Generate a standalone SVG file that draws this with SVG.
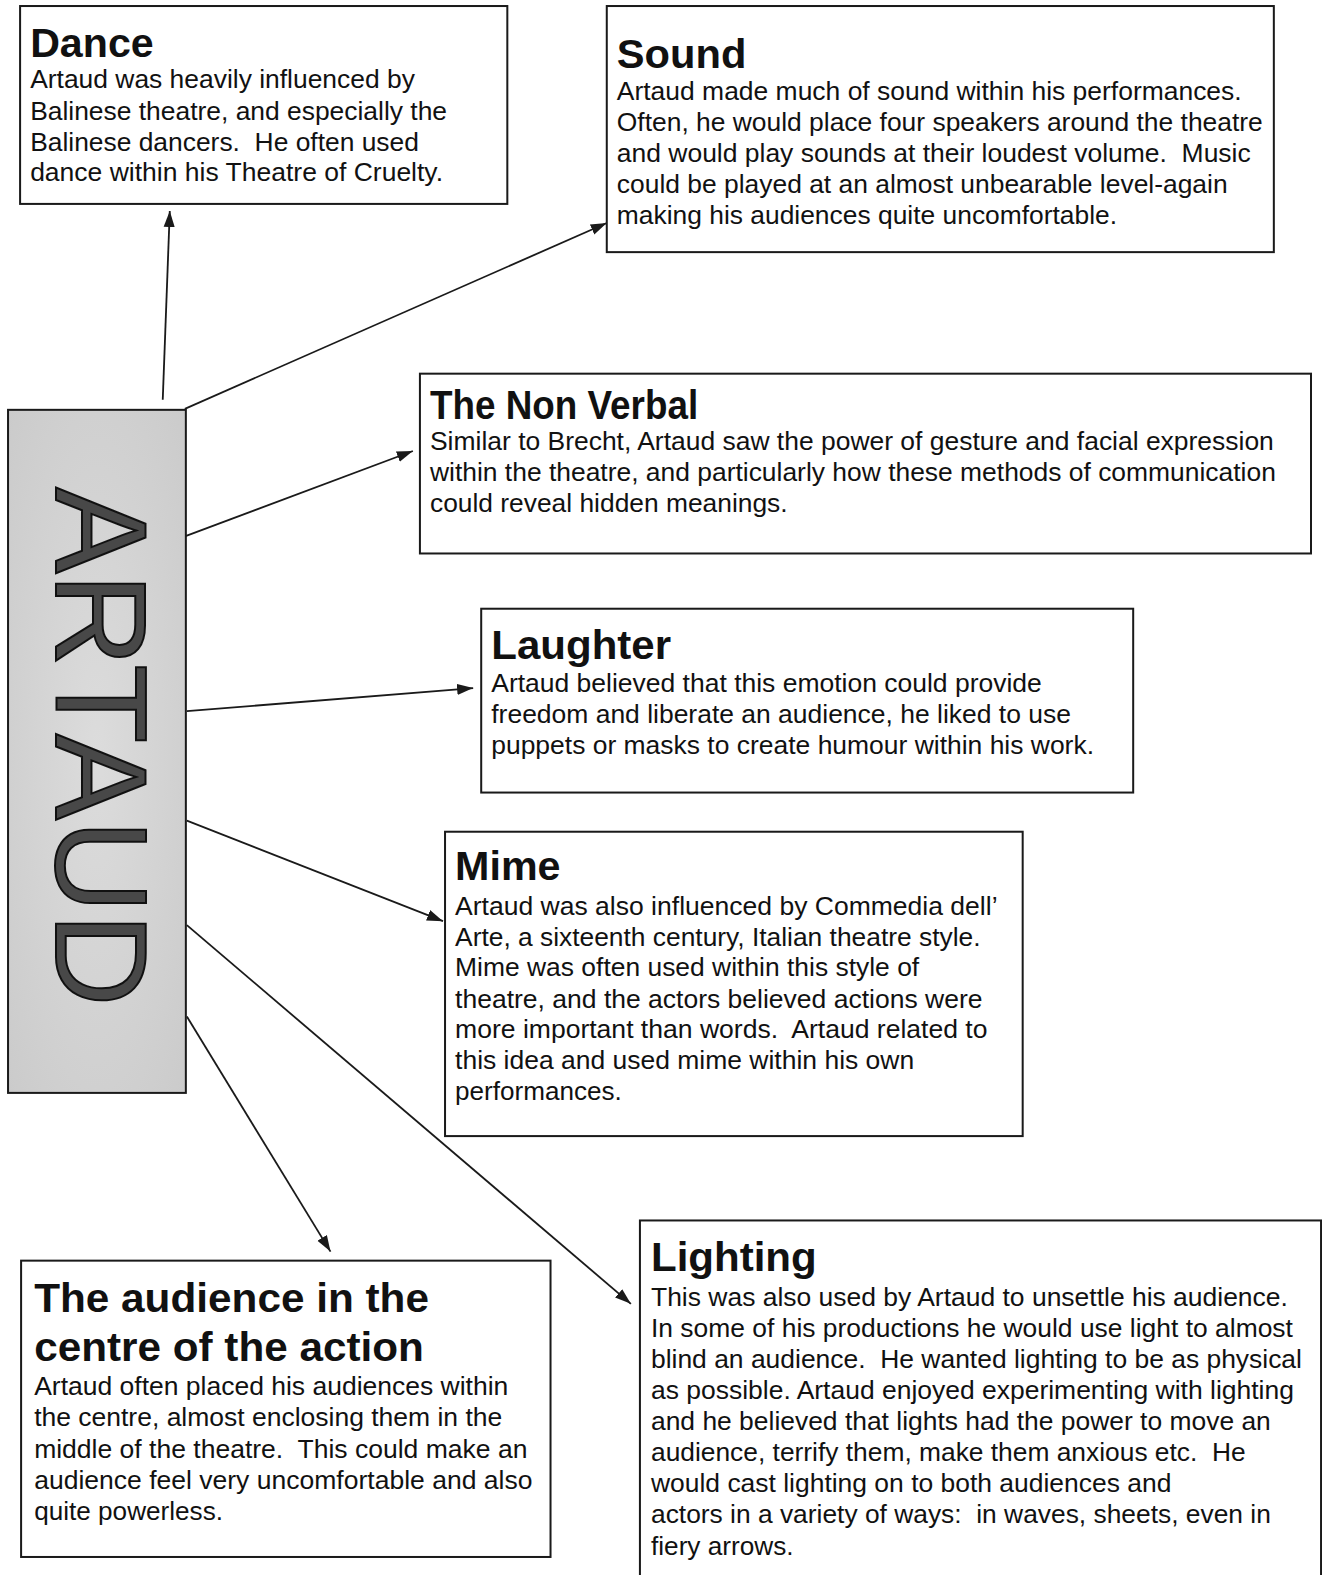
<svg xmlns="http://www.w3.org/2000/svg" width="1322" height="1575" viewBox="0 0 1322 1575">
<style>
.box{fill:#fff;stroke:#1a1a1a;stroke-width:2}
.t{font-family:"Liberation Sans",Arial,sans-serif;font-weight:bold;font-size:41px;fill:#111}
.b{font-family:"Liberation Sans",Arial,sans-serif;font-size:26px;fill:#111;white-space:pre}
.c{fill:none;stroke:#1a1a1a;stroke-width:1.8;marker-end:url(#ah)}
</style>
<defs>
<marker id="ah" viewBox="0 0 16 12" refX="16" refY="6" markerWidth="16" markerHeight="12" markerUnits="userSpaceOnUse" orient="auto">
<path d="M0,0.5 L16,6 L0,11.5 z" fill="#1a1a1a"/>
</marker>
<radialGradient id="gr" cx="0.5" cy="0.5" r="0.7">
<stop offset="0" stop-color="#dcdcdc"/>
<stop offset="1" stop-color="#cbcbcb"/>
</radialGradient>
</defs>
<rect width="1322" height="1575" fill="#fff"/>
<g transform="scale(1.0046 1.0045)">
<g id="connectors">
<line class="c" x1="162" y1="398" x2="169" y2="210"/>
<line class="c" x1="184" y1="407" x2="604" y2="222"/>
<line class="c" x1="184" y1="534" x2="411" y2="449"/>
<line class="c" x1="186" y1="708" x2="471" y2="685"/>
<line class="c" x1="186" y1="817" x2="441" y2="917"/>
<line class="c" x1="186" y1="921" x2="628" y2="1298"/>
<line class="c" x1="186" y1="1012" x2="329" y2="1246"/>
</g>
<g id="artaud">
<rect x="8" y="408" width="177" height="680" fill="url(#gr)" stroke="#1a1a1a" stroke-width="2"/>
<text transform="translate(56,485) rotate(90)" font-family="'Liberation Sans',Arial,sans-serif" font-size="130" fill="#484848" stroke="#111" stroke-width="2" textLength="517" lengthAdjust="spacingAndGlyphs">ARTAUD</text>
</g>
<g id="dance">
<rect class="box" x="20" y="6" width="485" height="197"/>
<text class="t" x="30" y="57" textLength="123" lengthAdjust="spacingAndGlyphs">Dance</text>
<text class="b" x="30" y="88" textLength="383" lengthAdjust="spacingAndGlyphs">Artaud was heavily influenced by</text>
<text class="b" x="30" y="119" textLength="415" lengthAdjust="spacingAndGlyphs">Balinese theatre, and especially the</text>
<text class="b" x="30" y="150" textLength="387" lengthAdjust="spacingAndGlyphs">Balinese dancers.  He often used</text>
<text class="b" x="30" y="180" textLength="411" lengthAdjust="spacingAndGlyphs">dance within his Theatre of Cruelty.</text>
</g>
<g id="sound">
<rect class="box" x="604" y="6" width="664" height="245"/>
<text class="t" x="614" y="68" textLength="129" lengthAdjust="spacingAndGlyphs">Sound</text>
<text class="b" x="614" y="100" textLength="622" lengthAdjust="spacingAndGlyphs">Artaud made much of sound within his performances.</text>
<text class="b" x="614" y="130" textLength="643" lengthAdjust="spacingAndGlyphs">Often, he would place four speakers around the theatre</text>
<text class="b" x="614" y="161" textLength="631" lengthAdjust="spacingAndGlyphs">and would play sounds at their loudest volume.  Music</text>
<text class="b" x="614" y="192" textLength="608" lengthAdjust="spacingAndGlyphs">could be played at an almost unbearable level-again</text>
<text class="b" x="614" y="223" textLength="498" lengthAdjust="spacingAndGlyphs">making his audiences quite uncomfortable.</text>
</g>
<g id="nonverbal">
<rect class="box" x="418" y="372" width="887" height="179"/>
<text class="t" x="428" y="417" textLength="267" lengthAdjust="spacingAndGlyphs">The Non Verbal</text>
<text class="b" x="428" y="448" textLength="840" lengthAdjust="spacingAndGlyphs">Similar to Brecht, Artaud saw the power of gesture and facial expression</text>
<text class="b" x="428" y="479" textLength="842" lengthAdjust="spacingAndGlyphs">within the theatre, and particularly how these methods of communication</text>
<text class="b" x="428" y="510" textLength="356" lengthAdjust="spacingAndGlyphs">could reveal hidden meanings.</text>
</g>
<g id="laughter">
<rect class="box" x="479" y="606" width="649" height="183"/>
<text class="t" x="489" y="656" textLength="179" lengthAdjust="spacingAndGlyphs">Laughter</text>
<text class="b" x="489" y="689" textLength="548" lengthAdjust="spacingAndGlyphs">Artaud believed that this emotion could provide</text>
<text class="b" x="489" y="720" textLength="577" lengthAdjust="spacingAndGlyphs">freedom and liberate an audience, he liked to use</text>
<text class="b" x="489" y="751" textLength="600" lengthAdjust="spacingAndGlyphs">puppets or masks to create humour within his work.</text>
</g>
<g id="mime">
<rect class="box" x="443" y="828" width="575" height="303"/>
<text class="t" x="453" y="876" textLength="105" lengthAdjust="spacingAndGlyphs">Mime</text>
<text class="b" x="453" y="911" textLength="540" lengthAdjust="spacingAndGlyphs">Artaud was also influenced by Commedia dell’</text>
<text class="b" x="453" y="942" textLength="523" lengthAdjust="spacingAndGlyphs">Arte, a sixteenth century, Italian theatre style.</text>
<text class="b" x="453" y="972" textLength="462" lengthAdjust="spacingAndGlyphs">Mime was often used within this style of</text>
<text class="b" x="453" y="1003" textLength="525" lengthAdjust="spacingAndGlyphs">theatre, and the actors believed actions were</text>
<text class="b" x="453" y="1033" textLength="530" lengthAdjust="spacingAndGlyphs">more important than words.  Artaud related to</text>
<text class="b" x="453" y="1064" textLength="457" lengthAdjust="spacingAndGlyphs">this idea and used mime within his own</text>
<text class="b" x="453" y="1095" textLength="166" lengthAdjust="spacingAndGlyphs">performances.</text>
</g>
<g id="audience">
<rect class="box" x="21" y="1255" width="527" height="295"/>
<text class="t" x="34" y="1306" textLength="393" lengthAdjust="spacingAndGlyphs">The audience in the</text>
<text class="t" x="34" y="1355" textLength="388" lengthAdjust="spacingAndGlyphs">centre of the action</text>
<text class="b" x="34" y="1389" textLength="472" lengthAdjust="spacingAndGlyphs">Artaud often placed his audiences within</text>
<text class="b" x="34" y="1420" textLength="466" lengthAdjust="spacingAndGlyphs">the centre, almost enclosing them in the</text>
<text class="b" x="34" y="1451" textLength="491" lengthAdjust="spacingAndGlyphs">middle of the theatre.  This could make an</text>
<text class="b" x="34" y="1482" textLength="496" lengthAdjust="spacingAndGlyphs">audience feel very uncomfortable and also</text>
<text class="b" x="34" y="1513" textLength="188" lengthAdjust="spacingAndGlyphs">quite powerless.</text>
</g>
<g id="lighting">
<rect class="box" x="637" y="1215" width="678" height="400"/>
<text class="t" x="648" y="1265" textLength="165" lengthAdjust="spacingAndGlyphs">Lighting</text>
<text class="b" x="648" y="1300" textLength="634" lengthAdjust="spacingAndGlyphs">This was also used by Artaud to unsettle his audience.</text>
<text class="b" x="648" y="1331" textLength="639" lengthAdjust="spacingAndGlyphs">In some of his productions he would use light to almost</text>
<text class="b" x="648" y="1362" textLength="648" lengthAdjust="spacingAndGlyphs">blind an audience.  He wanted lighting to be as physical</text>
<text class="b" x="648" y="1393" textLength="640" lengthAdjust="spacingAndGlyphs">as possible. Artaud enjoyed experimenting with lighting</text>
<text class="b" x="648" y="1424" textLength="617" lengthAdjust="spacingAndGlyphs">and he believed that lights had the power to move an</text>
<text class="b" x="648" y="1454" textLength="592" lengthAdjust="spacingAndGlyphs">audience, terrify them, make them anxious etc.  He</text>
<text class="b" x="648" y="1485" textLength="518" lengthAdjust="spacingAndGlyphs">would cast lighting on to both audiences and</text>
<text class="b" x="648" y="1516" textLength="617" lengthAdjust="spacingAndGlyphs">actors in a variety of ways:  in waves, sheets, even in</text>
<text class="b" x="648" y="1548" textLength="142" lengthAdjust="spacingAndGlyphs">fiery arrows.</text>
</g>
</g>
</svg>
